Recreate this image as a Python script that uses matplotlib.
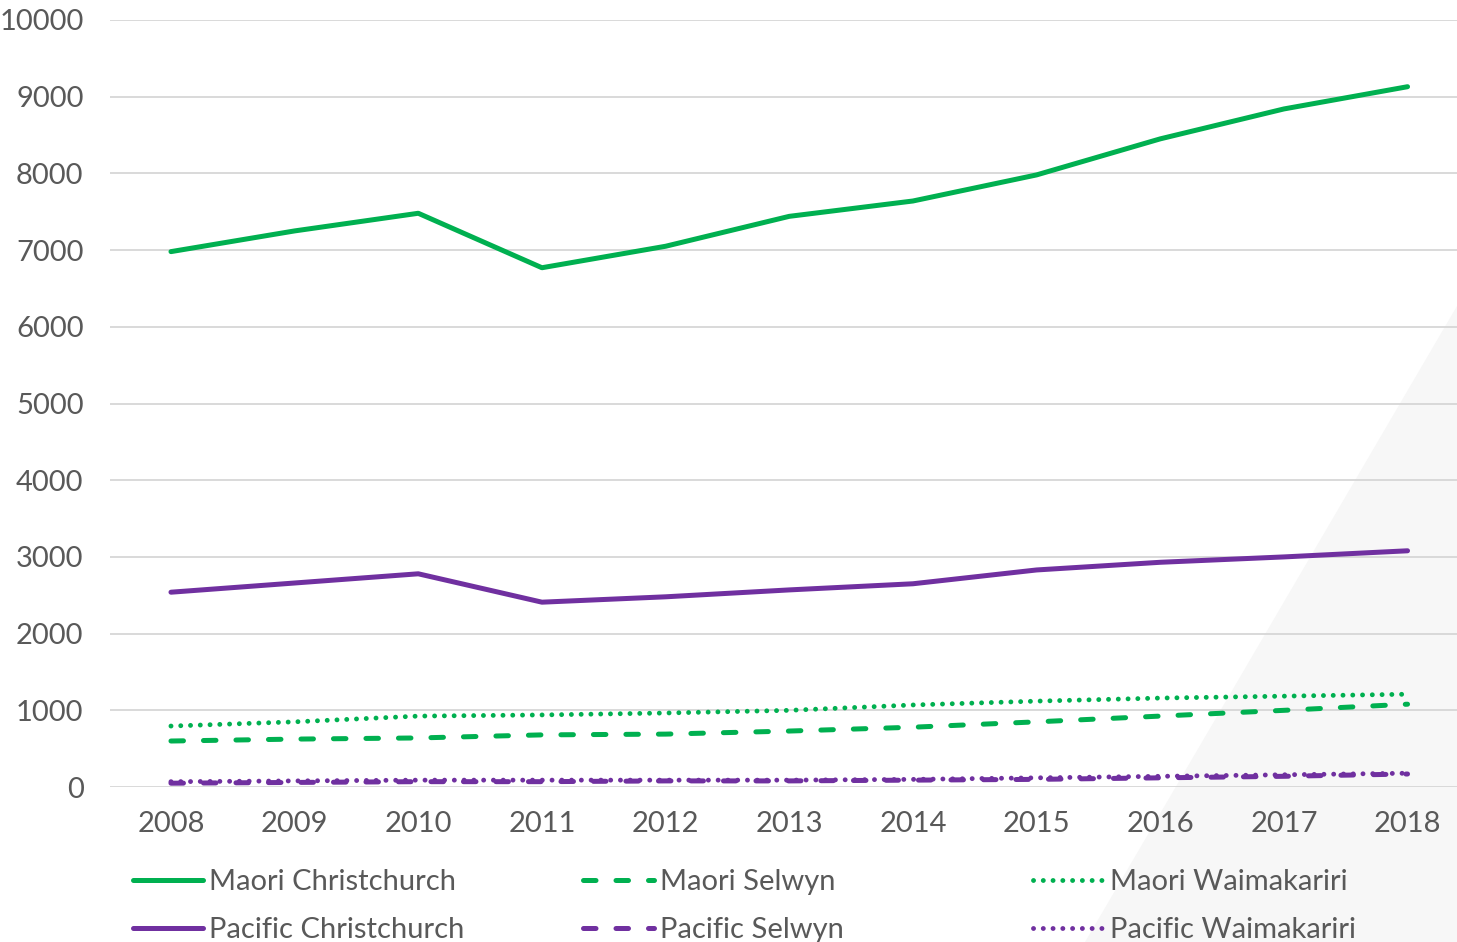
import matplotlib
matplotlib.use('Agg')
import matplotlib.pyplot as plt
from matplotlib.patches import Polygon

# Data
YEARS = [2008, 2009, 2010, 2011, 2012, 2013, 2014, 2015, 2016, 2017, 2018]
maori_chch = [6980, 7250, 7480, 6770, 7050, 7440, 7640, 7980, 8450, 8840, 9130]
maori_selwyn = [600, 625, 640, 680, 690, 730, 780, 850, 925, 1000, 1080]
maori_waimak = [795, 850, 925, 940, 965, 1000, 1070, 1120, 1160, 1185, 1210]
pacific_chch = [2540, 2660, 2780, 2410, 2480, 2570, 2650, 2830, 2930, 3000, 3080]
pacific_selwyn = [50, 60, 70, 70, 80, 80, 90, 100, 120, 140, 170]
pacific_waimak = [70, 80, 90, 90, 90, 90, 100, 120, 140, 160, 180]

GREEN = '#00b050'
PURPLE = '#7030a0'
TEXT = '#595959'
GRID = '#d9d9d9'

plt.rcParams['font.family'] = ['Lato', 'DejaVu Sans']

fig = plt.figure(figsize=(14.57, 9.42), dpi=100)

# faint grey decoration in the lower right corner, behind everything
fig.patches.append(Polygon([(1.0, 0.675), (1.0, 0.0), (0.745, 0.0)], closed=True,
                           transform=fig.transFigure, facecolor='#f7f7f7',
                           edgecolor='none', zorder=-1))

ax = fig.add_axes([0.0755, 0.1645, 0.9245, 0.8143])
ax.set_facecolor('none')

solid = dict(linewidth=3.6, solid_capstyle='round')
dashed = dict(linewidth=3.6, dashes=(2.5, 4), dash_capstyle='round')
dotted = dict(linewidth=3.5, dashes=(0.01, 2.0), dash_capstyle='round')

l1, = ax.plot(YEARS, maori_chch, color=GREEN, label='Maori Christchurch', **solid)
l2, = ax.plot(YEARS, maori_selwyn, color=GREEN, label='Maori Selwyn', **dashed)
l3, = ax.plot(YEARS, maori_waimak, color=GREEN, label='Maori Waimakariri', **dotted)
l4, = ax.plot(YEARS, pacific_chch, color=PURPLE, label='Pacific Christchurch', **solid)
l5, = ax.plot(YEARS, pacific_selwyn, color=PURPLE, label='Pacific Selwyn', **dashed)
l6, = ax.plot(YEARS, pacific_waimak, color=PURPLE, label='Pacific Waimakariri', **dotted)

ax.set_xlim(2007.507, 2018.40)
ax.set_ylim(0, 10000)
ax.set_xticks(YEARS)
ax.set_yticks(range(0, 10001, 1000))
ax.tick_params(length=0, labelsize=21, colors=TEXT)
ax.tick_params(axis='x', pad=17)
ax.tick_params(axis='y', pad=19)
ax.grid(axis='y', color=GRID, linewidth=1.4)
ax.set_axisbelow(True)
for s in ax.spines.values():
    s.set_visible(False)

# legend in three columns, each one its own block
cols = [([l1, l4], 0.091), ([l2, l5], 0.400), ([l3, l6], 0.709)]
for handles, x in cols:
    fig.legend(handles=handles, loc='upper left', bbox_to_anchor=(x, 0.077),
               frameon=False, fontsize=21, labelcolor=TEXT, handlelength=2.43,
               handletextpad=0.2, labelspacing=0.74, borderaxespad=0,
               borderpad=0)

fig.savefig('out.png', dpi=100)
